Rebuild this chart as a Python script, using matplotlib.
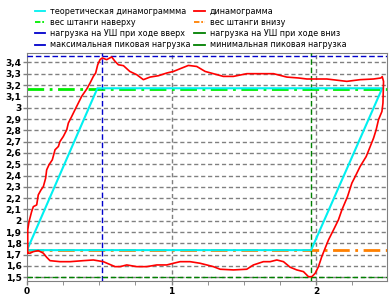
import matplotlib
matplotlib.use('Agg')
import matplotlib.pyplot as plt
from matplotlib import ticker

# theoretical dynamogram corners (stroke, load)
theory_x = [0.0, 0.487, 2.457, 1.965, 0.0]
theory_y = [1.74, 3.172, 3.172, 1.74, 1.74]

dyno_pts = [
    (0.003, 1.713), (0.005, 1.742), (0.005, 1.919), (0.014, 1.992), (0.032, 2.081),
    (0.044, 2.125), (0.067, 2.140), (0.078, 2.229), (0.097, 2.273), (0.113, 2.302),
    (0.129, 2.377), (0.136, 2.450), (0.152, 2.495), (0.175, 2.539), (0.194, 2.628),
    (0.217, 2.657), (0.228, 2.701), (0.251, 2.745), (0.275, 2.805), (0.286, 2.864),
    (0.309, 2.922), (0.332, 2.982), (0.355, 3.041), (0.378, 3.100), (0.413, 3.165),
    (0.436, 3.218), (0.459, 3.277), (0.475, 3.307), (0.489, 3.380), (0.505, 3.425),
    (0.521, 3.440), (0.551, 3.425), (0.586, 3.449), (0.609, 3.410), (0.632, 3.380),
    (0.667, 3.372), (0.711, 3.321), (0.759, 3.292), (0.805, 3.248), (0.851, 3.271),
    (0.909, 3.283), (0.967, 3.307), (1.013, 3.321), (1.071, 3.351), (1.116, 3.374),
    (1.174, 3.365), (1.232, 3.321), (1.289, 3.301), (1.358, 3.277), (1.428, 3.277),
    (1.520, 3.301), (1.612, 3.301), (1.705, 3.301), (1.797, 3.271), (1.878, 3.263),
    (1.936, 3.254), (2.074, 3.254), (2.212, 3.233), (2.304, 3.248), (2.397, 3.254),
    (2.448, 3.263), (2.457, 3.275), (2.466, 3.233), (2.462, 3.041), (2.455, 2.967),
    (2.431, 2.893), (2.415, 2.805), (2.397, 2.731), (2.374, 2.657), (2.346, 2.568),
    (2.304, 2.480), (2.270, 2.391), (2.247, 2.333), (2.217, 2.214), (2.178, 2.096),
    (2.154, 2.008), (2.120, 1.919), (2.085, 1.830), (2.062, 1.757), (2.039, 1.683),
    (2.016, 1.594), (1.993, 1.535), (1.970, 1.505), (1.947, 1.505), (1.912, 1.550),
    (1.866, 1.565), (1.820, 1.589), (1.774, 1.638), (1.728, 1.653), (1.682, 1.638),
    (1.635, 1.638), (1.566, 1.609), (1.520, 1.571), (1.428, 1.565), (1.336, 1.571),
    (1.289, 1.594), (1.197, 1.624), (1.128, 1.638), (1.059, 1.638), (1.013, 1.624),
    (0.967, 1.609), (0.898, 1.609), (0.828, 1.594), (0.759, 1.594), (0.690, 1.609),
    (0.644, 1.594), (0.609, 1.594), (0.528, 1.638), (0.459, 1.653), (0.390, 1.647),
    (0.298, 1.638), (0.228, 1.638), (0.159, 1.647), (0.136, 1.677), (0.113, 1.713),
    (0.078, 1.736), (0.044, 1.727), (0.021, 1.713), (0.003, 1.713),
]
dyno_x, dyno_y = zip(*dyno_pts)

rod_top = 3.168      # вес штанги наверху
rod_bottom = 1.737   # вес штанги внизу
x_up = 0.517         # нагрузка на УШ при ходе вверх
x_down = 1.965       # нагрузка на УШ при ходе вниз
peak_max = 3.455
peak_min = 1.505

labels = ['теоретическая динамограммма', 'динамограмма',
          'вес штанги наверху', 'вес штанги внизу',
          'нагрузка на УШ при ходе вверх', 'нагрузка на УШ при ходе вниз',
          'максимальная пиковая нагрузка', 'минимальная пиковая нагрузка']

xlim = (0, 2.49)
ylim = (1.467, 3.484)

plt.rcParams['font.family'] = ['DejaVu Sans']
fig = plt.figure(figsize=(3.91, 3.0), dpi=100)
ax = fig.add_axes([27 / 391, 19 / 300, 360 / 391, 228 / 300])

grid_kw = dict(color='#808080', lw=1, ls=(0, (3, 2)), zorder=1)
for v in [1.5 + 0.1 * i for i in range(20)]:
    ax.axhline(v, **grid_kw)
for v in [1, 2]:
    ax.axvline(v, **grid_kw)

h = {}
h[2], = ax.plot(xlim, [rod_top] * 2, color='#00ee00', lw=2, ls=(0, (6, 2, 1, 2)), zorder=2)
h[3], = ax.plot(xlim, [rod_bottom] * 2, color='#ff8000', lw=2, ls=(0, (6, 2, 1, 2)), zorder=2)
h[4] = ax.axvline(x_up, color='#0000cc', lw=1, ls=(0, (4, 2)), zorder=3)
h[5] = ax.axvline(x_down, color='#008000', lw=1, ls=(0, (4, 2)), zorder=3)
h[6] = ax.axhline(peak_max, color='#0000cc', lw=1, ls=(0, (4, 2)), zorder=3)
h[7] = ax.axhline(peak_min, color='#008000', lw=1, ls=(0, (4, 2)), zorder=3)
h[0], = ax.plot(theory_x, theory_y, color='#00f0f0', lw=1.5, zorder=4)
h[1], = ax.plot(dyno_x, dyno_y, color='#ff0000', lw=1.2, zorder=5)

ax.set_xlim(*xlim)
ax.set_ylim(*ylim)
ax.set_xticks([0, 1, 2])
ax.xaxis.set_minor_locator(ticker.MultipleLocator(0.25))
ax.set_yticks([1.5 + 0.1 * i for i in range(20)])
ax.yaxis.set_major_formatter(ticker.FuncFormatter(
    lambda v, p: ('%g' % round(v, 1)).replace('.', ',')))
ax.tick_params(labelsize=6.5, length=3, width=1, color='#808080', pad=1)
ax.tick_params(which='minor', length=3, color='#808080')
for lab in ax.get_xticklabels() + ax.get_yticklabels():
    lab.set_fontweight('bold')
for s in ax.spines.values():
    s.set_color('#808080')

# legend: column-major order for ncol=2
order = [0, 2, 4, 6, 1, 3, 5, 7]
leg_handles = []
for i in order:
    src = h[i]
    ln = plt.Line2D([], [], color=src.get_color(), lw=1.3,
                    ls='-' if i in (0, 1, 4, 5, 6, 7) else (0, (3, 1, 1, 1)))
    leg_handles.append(ln)
fig.legend(leg_handles, [labels[i] for i in order], loc='upper left',
           bbox_to_anchor=(33 / 391, 1 - 5 / 300), ncol=2, frameon=False, fontsize=5.8,
           handlelength=1.3, handletextpad=0.6, labelspacing=0.28, columnspacing=0.5,
           borderaxespad=0, borderpad=0.2)

fig.savefig('out.png', dpi=100)
